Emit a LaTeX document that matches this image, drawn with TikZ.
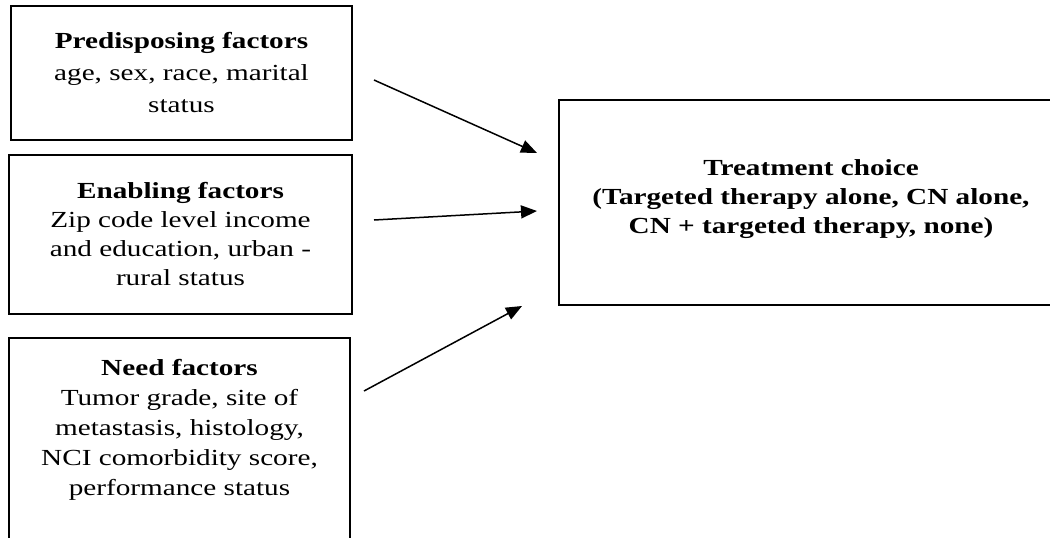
\documentclass[tikz,border=0pt]{standalone}
\usepackage{fontspec}
\setmainfont{Liberation Serif}[FakeStretch=1.27]
\usetikzlibrary{calc,arrows.meta}

\begin{document}
\begin{tikzpicture}[x=0.5pt, y=-0.5pt,
  factor/.style={draw, line width=1pt, align=center, inner sep=0pt, font=\fontsize{11.5}{14.5}\selectfont},
  effect/.style={-{Triangle[length=8pt,width=6.5pt]}, line width=0.75pt}]
\useasboundingbox (0,0) rectangle (1050,537);
\clip (0,0) rectangle (1050,537);
\node[factor, font=\fontsize{11.5}{16}\selectfont, minimum width=170.5pt, minimum height=67pt] (pred) at (181.5,73) {\textbf{Predisposing factors}\\age, sex, race, marital\\status};
\node[factor, minimum width=171.5pt, minimum height=79.5pt] (enab) at (180.5,234.5) {\textbf{Enabling factors}\\Zip code level income\\and education, urban -\\rural status};
\node[factor, font=\fontsize{11.5}{15}\selectfont, minimum width=170.5pt, text height=78.5pt, text depth=50pt, anchor=north] (need) at (179.5,337) {\textbf{Need factors}\\Tumor grade, site of\\metastasis, histology,\\NCI comorbidity score,\\performance status};
\node[factor, font=\fontsize{11.5}{14.5}\selectfont\bfseries, minimum width=252pt, minimum height=102.5pt, text depth=5.5pt] (treat) at (811,202.5) {Treatment choice\\(Targeted therapy alone, CN alone,\\CN + targeted therapy, none)};
\draw[effect] ($(pred.east)+(21,7)$) -- ($(treat.west)+(-21,-49.5)$);
\draw[effect] ($(enab.east)+(21,-14.5)$) -- ($(treat.west)+(-21,8.5)$);
\draw[effect] ($(need.north east)+(13,54)$) -- ($(treat.south west)+(-36,0)$);
\end{tikzpicture}
\end{document}
